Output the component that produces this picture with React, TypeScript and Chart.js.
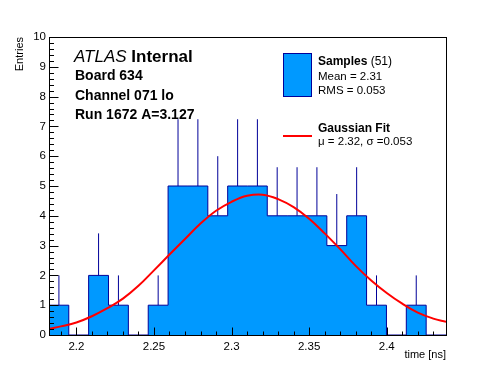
import { useEffect, useRef } from 'react';
import { Chart, registerables } from 'chart.js';

Chart.register(...registerables);

// ---- data ----
const binEdges = [
  2.1824, 2.1951, 2.2079, 2.2207, 2.2335, 2.2463, 2.2591, 2.2719, 2.2847, 2.2975,
  2.3103, 2.323, 2.3358, 2.3486, 2.3614, 2.3742, 2.387, 2.3998, 2.4126, 2.4254, 2.4382,
];
const binCounts = [1, 0, 2, 1, 0, 1, 5, 5, 4, 5, 5, 4, 4, 4, 3, 4, 1, 0, 1, 0];
const errorTops = [2, 0, 3.41, 2, 0, 2, 7.24, 7.24, 6, 7.24, 7.24, 5.63, 5.63, 5.63, 4.73, 5.63, 2, 0, 2, 0];

const fitX = [
  2.1824, 2.19, 2.2, 2.21, 2.22, 2.23, 2.24, 2.25, 2.26, 2.27, 2.28, 2.29, 2.3, 2.31,
  2.32, 2.33, 2.34, 2.35, 2.36, 2.37, 2.38, 2.39, 2.4, 2.41, 2.42, 2.43, 2.4382,
];
const fitY = [
  0.21, 0.29, 0.42, 0.63, 0.9, 1.22, 1.65, 2.17, 2.7, 3.22, 3.74, 4.17, 4.47, 4.67,
  4.71, 4.56, 4.29, 3.9, 3.41, 2.88, 2.32, 1.83, 1.41, 1.05, 0.75, 0.55, 0.44,
];

const xMajorTicks = [2.2, 2.25, 2.3, 2.35, 2.4];
const yMajorTicks = [0, 1, 2, 3, 4, 5, 6, 7, 8, 9, 10];
const xMinorStep = 0.01;
const yMinorStep = 0.2;

const headerTitleItalic = 'ATLAS';
const headerTitleBold = 'Internal';
const headerLines = ['Board 634', 'Channel 071 lo', 'Run 1672 A=3.127'];
const sampleLabel = 'Samples';
const sampleCount = 51;
const sampleMean = '2.31';
const sampleRms = '0.053';
const fitLabel = 'Gaussian Fit';
const fitMu = '2.32';
const fitSigma = '0.053';

const X_MIN = 2.18236;
const X_MAX = 2.43818;

const FONT = '"Liberation Sans", Arial, Helvetica, sans-serif';
const FILL_BLUE = '#0099ff';
const DARK_BLUE = '#000099';

const decorPlugin = {
  id: 'rootDecor',
  afterDatasetsDraw(chart: any) {
    const { ctx, chartArea, scales } = chart;
    const xs = scales.x;
    const ys = scales.y;
    const L = Math.round(chartArea.left) + 0.5;
    const R = Math.round(chartArea.right) + 0.5;
    const T = Math.round(chartArea.top) + 0.5;
    const B = Math.round(chartArea.bottom) + 0.5;
    ctx.save();
    ctx.strokeStyle = '#000';
    ctx.lineWidth = 1;
    ctx.beginPath();
    // x ticks
    const xStart = Math.ceil(X_MIN / xMinorStep - 1e-6);
    const xEnd = Math.floor(X_MAX / xMinorStep + 1e-6);
    for (let k = xStart; k <= xEnd; k++) {
      const v = k * xMinorStep;
      const major = xMajorTicks.some((t) => Math.abs(t - v) < 1e-6);
      const px = Math.round(xs.getPixelForValue(v)) + 0.5;
      const len = major ? 8 : 4;
      ctx.moveTo(px, B);
      ctx.lineTo(px, B - len);
    }
    // y ticks
    for (let k = 0; k <= 50; k++) {
      const v = k * yMinorStep;
      const major = yMajorTicks.some((t) => Math.abs(t - v) < 1e-6);
      const py = Math.round(ys.getPixelForValue(v)) + 0.5;
      const len = major ? 9 : 4.5;
      ctx.moveTo(L, py);
      ctx.lineTo(L + len, py);
    }
    ctx.stroke();
    ctx.strokeRect(L, T, R - L, B - T);
    ctx.restore();
  },
  afterDraw(chart: any) {
    const { ctx } = chart;
    ctx.save();
    ctx.fillStyle = '#000';
    ctx.textBaseline = 'middle';
    ctx.textAlign = 'left';

    // header
    ctx.font = `italic 17px ${FONT}`;
    ctx.fillText(headerTitleItalic, 74, 57);
    const w1 = ctx.measureText(headerTitleItalic + ' ').width;
    ctx.font = `bold 17px ${FONT}`;
    ctx.fillText(headerTitleBold, 74 + w1, 57);
    ctx.font = `bold 14px ${FONT}`;
    const lineYs = [76, 96, 115];
    headerLines.forEach((t, i) => ctx.fillText(t, 75, lineYs[i]));

    // legend: samples
    ctx.fillStyle = FILL_BLUE;
    ctx.fillRect(283, 53, 29, 44);
    ctx.strokeStyle = DARK_BLUE;
    ctx.lineWidth = 1;
    ctx.strokeRect(283.5, 53.5, 28, 43);

    ctx.fillStyle = '#000';
    ctx.font = `bold 12px ${FONT}`;
    ctx.fillText(sampleLabel, 318, 62);
    const ws = ctx.measureText(sampleLabel).width;
    ctx.font = `12px ${FONT}`;
    ctx.fillText(` (${sampleCount})`, 318 + ws, 62);
    ctx.font = `11.5px ${FONT}`;
    ctx.fillText(`Mean = ${sampleMean}`, 318, 77);
    ctx.fillText(`RMS = ${sampleRms}`, 318, 91);

    // legend: fit
    ctx.strokeStyle = '#ff0000';
    ctx.lineWidth = 2;
    ctx.beginPath();
    ctx.moveTo(283, 136);
    ctx.lineTo(312, 136);
    ctx.stroke();
    ctx.font = `bold 12px ${FONT}`;
    ctx.fillText(fitLabel, 318, 129);
    ctx.font = `11.5px ${FONT}`;
    ctx.fillText(`\u03bc = ${fitMu}, \u03c3 =${fitSigma}`, 318, 142);
    ctx.restore();
  },
};

export default function App() {
  const ref = useRef<HTMLCanvasElement | null>(null);

  useEffect(() => {
    if (!ref.current) return;
    const histPoints: { x: number; y: number }[] = [{ x: binEdges[0], y: 0 }];
    binCounts.forEach((c, i) => histPoints.push({ x: binEdges[i], y: c }));
    histPoints.push({ x: binEdges[binEdges.length - 1], y: binCounts[binCounts.length - 1] });
    histPoints.push({ x: binEdges[binEdges.length - 1], y: 0 });

    const errPoints: { x: number; y: number | null }[] = [];
    binCounts.forEach((c, i) => {
      if (c <= 0) return;
      const cx = (binEdges[i] + binEdges[i + 1]) / 2;
      errPoints.push({ x: cx, y: c });
      errPoints.push({ x: cx, y: errorTops[i] });
      errPoints.push({ x: cx, y: null });
    });

    const fitPoints = fitX.map((x, i) => ({ x, y: fitY[i] }));

    const chart = new Chart(ref.current, {
      type: 'line',
      data: {
        datasets: [
          {
            data: fitPoints,
            borderColor: '#ff0000',
            borderWidth: 2,
            pointRadius: 0,
            tension: 0.4,
            fill: false,
            order: 0,
          },
          {
            data: histPoints,
            borderColor: DARK_BLUE,
            backgroundColor: FILL_BLUE,
            borderWidth: 1,
            pointRadius: 0,
            stepped: 'before',
            fill: 'origin',
            order: 1,
          },
          {
            data: errPoints as any,
            borderColor: DARK_BLUE,
            borderWidth: 1,
            pointRadius: 0,
            spanGaps: false,
            fill: false,
            order: 2,
          },
        ],
      },
      options: {
        animation: false,
        responsive: false,
        devicePixelRatio: 1,
        events: [],
        layout: { padding: { top: 37, right: 50, left: 0, bottom: 0 } },
        plugins: {
          legend: { display: false },
          tooltip: { enabled: false },
        },
        scales: {
          x: {
            type: 'linear',
            position: 'bottom',
            min: X_MIN,
            max: X_MAX,
            grid: { display: false, drawTicks: false },
            border: { display: false },
            afterBuildTicks: (s: any) => {
              s.ticks = xMajorTicks.map((v) => ({ value: v }));
            },
            afterFit: (s: any) => {
              s.height = 37;
            },
            ticks: {
              autoSkip: false,
              maxRotation: 0,
              padding: 5,
              color: '#000',
              font: { family: FONT, size: 11.5 },
              callback: (v: any) => String(parseFloat(Number(v).toFixed(3))),
            },
            title: {
              display: true,
              text: 'time [ns]',
              align: 'end',
              color: '#000',
              font: { family: FONT, size: 11 },
              padding: { top: 0, bottom: 10.5 },
            },
          },
          y: {
            type: 'linear',
            position: 'left',
            min: 0,
            max: 10,
            grid: { display: false, drawTicks: false },
            border: { display: false },
            afterBuildTicks: (s: any) => {
              s.ticks = yMajorTicks.map((v) => ({ value: v }));
            },
            afterFit: (s: any) => {
              s.width = 49;
            },
            ticks: {
              autoSkip: false,
              padding: 3,
              color: '#000',
              font: { family: FONT, size: 11.5 },
              callback: (v: any) => String(v),
            },
            title: {
              display: true,
              text: 'Entries',
              align: 'end',
              color: '#000',
              font: { family: FONT, size: 11 },
              padding: { top: 13, bottom: 0 },
            },
          },
        },
      },
      plugins: [decorPlugin],
    } as any);
    return () => chart.destroy();
  }, []);

  return (
    <div style={{ position: 'absolute', left: 0, top: 0, width: 496, height: 372, background: '#fff' }}>
      <canvas ref={ref} width={496} height={372} style={{ display: 'block', width: 496, height: 372 }} />
    </div>
  );
}
